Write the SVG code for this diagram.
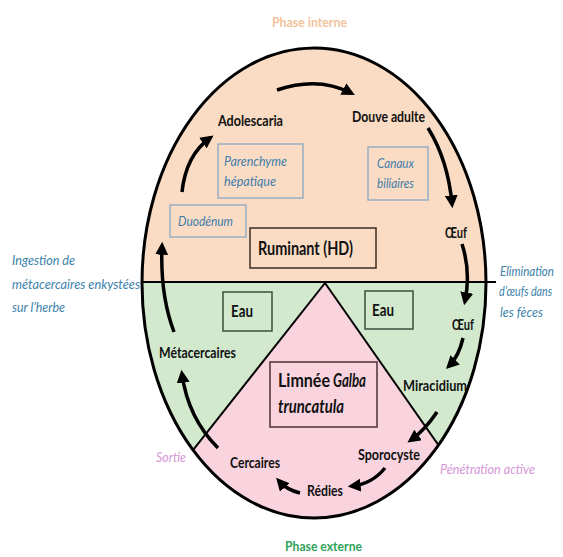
<svg xmlns="http://www.w3.org/2000/svg" width="563" height="557" viewBox="0 0 563 557">
<style>
text{font-family:Lato,"Liberation Sans",sans-serif}
.lbl{font-weight:bold;font-size:15px;fill:#111}
.loc{font-style:italic;font-size:14px;fill:#3f7cac}
.out{font-style:italic;font-size:13.5px;fill:#3c82aa}
.pur{font-style:italic;font-size:13.5px;fill:#d596d8}
.lbox{fill:none;stroke:#97aec3;stroke-width:1.5}
.hbox{fill:none;stroke:#3a2c24;stroke-width:1.5}
.ebox{fill:none;stroke:#3d4d3d;stroke-width:1.5}
.arr{fill:none;stroke:#000;stroke-width:3.5;marker-end:url(#ah)}
</style>
<defs>
<clipPath id="ell"><ellipse cx="314" cy="283" rx="172" ry="235"/></clipPath>
<marker id="ah" viewBox="0 0 12 12" refX="8" refY="6" markerWidth="13" markerHeight="13" markerUnits="userSpaceOnUse" orient="auto"><path d="M0,0 L12,6 L0,12 z" fill="#000"/></marker>
</defs>
<rect width="563" height="557" fill="#fff"/>
<g id="background">
<g clip-path="url(#ell)">
<rect x="140" y="40" width="350" height="242" fill="#fadcc4"/>
<rect x="140" y="282" width="350" height="240" fill="#d2e9cd"/>
<polygon points="325,283 88,583 535,583" fill="#f9d3de"/>
<line x1="325" y1="283" x2="88" y2="583" stroke="#000" stroke-width="2"/>
<line x1="325" y1="283" x2="535" y2="583" stroke="#000" stroke-width="2"/>
</g>
<ellipse cx="314" cy="283" rx="172" ry="235" fill="none" stroke="#000" stroke-width="3"/>
<line x1="143" y1="282" x2="496" y2="282" stroke="#000" stroke-width="2"/>
</g>
<g id="titles">
<text x="272" y="27" font-weight="bold" font-size="14" fill="#f2c39a" textLength="75" lengthAdjust="spacingAndGlyphs">Phase interne</text>
<text x="285" y="551" font-weight="bold" font-size="14" fill="#2fa35a" textLength="77" lengthAdjust="spacingAndGlyphs">Phase externe</text>
</g>
<g id="side-labels">
<text class="out" x="12" y="265" textLength="63" lengthAdjust="spacingAndGlyphs">Ingestion de</text>
<text class="out" x="12" y="289" textLength="128" lengthAdjust="spacingAndGlyphs">métacercaires enkystées</text>
<text class="out" x="12" y="312" textLength="53" lengthAdjust="spacingAndGlyphs">sur l’herbe</text>
<text class="out" x="500" y="276" font-size="12.5" textLength="54" lengthAdjust="spacingAndGlyphs">Elimination</text>
<text class="out" x="499" y="296" font-size="11" textLength="53" lengthAdjust="spacingAndGlyphs">d’œufs dans</text>
<text class="out" x="500" y="317" font-size="12.5" textLength="43" lengthAdjust="spacingAndGlyphs">les fèces</text>
<text class="pur" x="156" y="462" textLength="30" lengthAdjust="spacingAndGlyphs">Sortie</text>
<text class="pur" x="440" y="474" textLength="95" lengthAdjust="spacingAndGlyphs">Pénétration active</text>
</g>
<g id="parenchyme">
<rect class="lbox" x="218" y="144" width="85" height="54"/>
<text class="loc" x="224" y="166" textLength="63" lengthAdjust="spacingAndGlyphs">Parenchyme</text>
<text class="loc" x="224" y="186" textLength="52" lengthAdjust="spacingAndGlyphs">hépatique</text>
</g>
<g id="canaux">
<rect class="lbox" x="368" y="147" width="60" height="53"/>
<text class="loc" x="377" y="168" textLength="37" lengthAdjust="spacingAndGlyphs">Canaux</text>
<text class="loc" x="377" y="188" textLength="37" lengthAdjust="spacingAndGlyphs">biliaires</text>
</g>
<g id="duodenum">
<rect class="lbox" x="170" y="205" width="76" height="32"/>
<text class="loc" x="178" y="226" textLength="55" lengthAdjust="spacingAndGlyphs">Duodénum</text>
</g>
<g id="ruminant">
<rect class="hbox" x="250" y="228" width="126" height="40"/>
<text x="258" y="255" font-weight="bold" font-size="18" fill="#111" textLength="95" lengthAdjust="spacingAndGlyphs">Ruminant (HD)</text>
</g>
<g id="eau-gauche">
<rect class="ebox" x="223" y="292" width="49" height="39"/>
<text x="231" y="317" font-weight="bold" font-size="17" fill="#111" textLength="22" lengthAdjust="spacingAndGlyphs">Eau</text>
</g>
<g id="eau-droite">
<rect class="ebox" x="365" y="291" width="48" height="38"/>
<text x="372" y="316" font-weight="bold" font-size="17" fill="#111" textLength="22" lengthAdjust="spacingAndGlyphs">Eau</text>
</g>
<g id="limnee">
<rect x="270" y="362" width="107" height="65" fill="none" stroke="#4a3035" stroke-width="1.5"/>
<text x="278" y="387" font-weight="bold" font-size="18" fill="#111" textLength="52" lengthAdjust="spacingAndGlyphs">Limnée</text>
<text x="333" y="387" font-weight="bold" font-style="italic" font-size="18" fill="#111" textLength="33" lengthAdjust="spacingAndGlyphs">Galba</text>
<text x="278" y="413" font-weight="bold" font-style="italic" font-size="18" fill="#111" textLength="66" lengthAdjust="spacingAndGlyphs">truncatula</text>
</g>
<g id="adolescaria"><text class="lbl" x="218" y="126" textLength="65" lengthAdjust="spacingAndGlyphs">Adolescaria</text></g>
<g id="douve"><text class="lbl" x="352" y="122" textLength="73" lengthAdjust="spacingAndGlyphs">Douve adulte</text></g>
<g id="oeuf1"><text class="lbl" x="445" y="238" textLength="22" lengthAdjust="spacingAndGlyphs">Œuf</text></g>
<g id="oeuf2"><text class="lbl" x="452" y="330" textLength="22" lengthAdjust="spacingAndGlyphs">Œuf</text></g>
<g id="miracidium"><text class="lbl" x="403" y="391" textLength="64" lengthAdjust="spacingAndGlyphs">Miracidium</text></g>
<g id="sporocyste"><text class="lbl" x="358" y="460" textLength="62" lengthAdjust="spacingAndGlyphs">Sporocyste</text></g>
<g id="redies"><text class="lbl" x="307" y="496" textLength="36" lengthAdjust="spacingAndGlyphs">Rédies</text></g>
<g id="cercaires"><text class="lbl" x="230" y="468" textLength="50" lengthAdjust="spacingAndGlyphs">Cercaires</text></g>
<g id="metacercaires"><text class="lbl" x="159" y="358" textLength="77" lengthAdjust="spacingAndGlyphs">Métacercaires</text></g>
<g id="connectors">
<path class="arr" d="M277,90 Q318,76 351,93"/>
<path class="arr" d="M428,128 Q448,160 452,204"/>
<path class="arr" d="M462,244 Q471,272 465,301"/>
<path class="arr" d="M463,338 Q459,356 449,366"/>
<path class="arr" d="M437,412 Q425,430 411,440"/>
<path class="arr" d="M385,468 Q372,484 352,486"/>
<path class="arr" d="M300,493 Q287,490 279,481"/>
<path class="arr" d="M218,448 Q188,418 182,374"/>
<path class="arr" d="M174,332 Q160,295 162,246"/>
<path class="arr" d="M182,192 Q186,155 210,138"/>
</g>
</svg>
